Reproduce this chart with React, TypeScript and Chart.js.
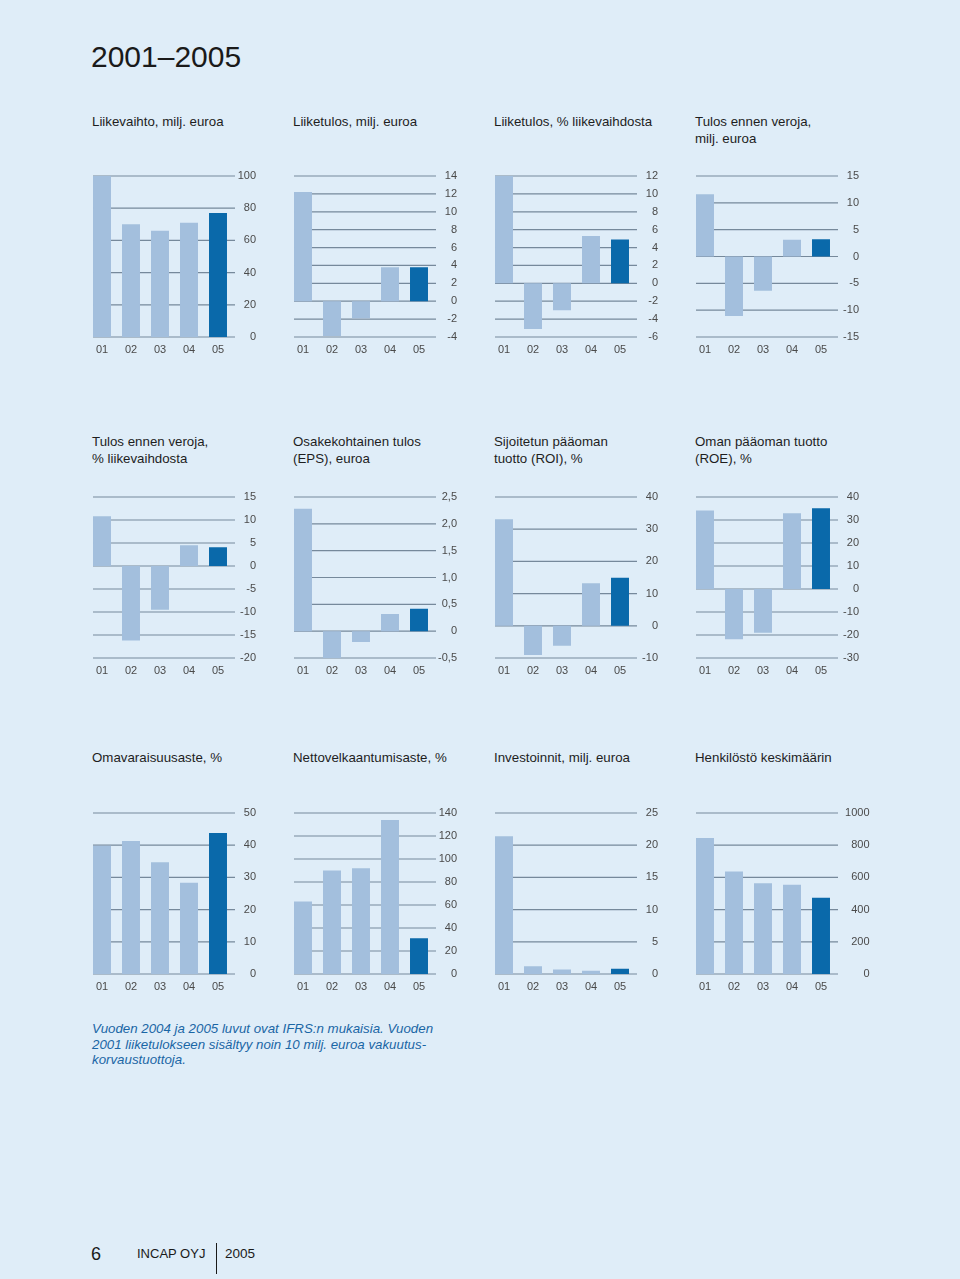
import React, { useEffect, useRef } from "react";
import { Chart, registerables } from "chart.js";

Chart.register(...registerables);

const years = ["01", "02", "03", "04", "05"];

const liikevaihto = [101, 70, 66, 71, 77];
const liiketulos = [12.2, -3.9, -1.9, 3.8, 3.8];
const liiketulosPct = [12.0, -5.1, -3.0, 5.3, 4.9];
const tulosEnnenVeroja = [11.6, -11.1, -6.4, 3.1, 3.2];
const tulosEnnenVerojaPct = [10.8, -16.2, -9.5, 4.5, 4.1];
const eps = [2.28, -0.5, -0.2, 0.32, 0.42];
const roi = [33.1, -9.1, -6.2, 13.2, 14.9];
const roe = [34.1, -21.8, -19.0, 32.9, 35.1];
const omavaraisuusaste = [39.8, 41.3, 34.7, 28.3, 43.8];
const nettovelkaantumisaste = [63, 90, 92, 134, 31];
const investoinnit = [21.4, 1.2, 0.7, 0.5, 0.8];
const henkilosto = [845, 636, 564, 555, 474];

const ticksLiikevaihto = [0, 20, 40, 60, 80, 100];
const ticksLiiketulos = [-4, -2, 0, 2, 4, 6, 8, 10, 12, 14];
const ticksLiiketulosPct = [-6, -4, -2, 0, 2, 4, 6, 8, 10, 12];
const ticksTulos = [-15, -10, -5, 0, 5, 10, 15];
const ticksTulosPct = [-20, -15, -10, -5, 0, 5, 10, 15];
const ticksEps = [-0.5, 0, 0.5, 1.0, 1.5, 2.0, 2.5];
const ticksRoi = [-10, 0, 10, 20, 30, 40];
const ticksRoe = [-30, -20, -10, 0, 10, 20, 30, 40];
const ticksOmavaraisuus = [0, 10, 20, 30, 40, 50];
const ticksNettovelka = [0, 20, 40, 60, 80, 100, 120, 140];
const ticksInvestoinnit = [0, 5, 10, 15, 20, 25];
const ticksHenkilosto = [0, 200, 400, 600, 800, 1000];

const FONT = "'Liberation Sans', Arial, Helvetica, sans-serif";
const BG = "#dfedf8";
const LIGHT = "#a3bfdd";
const DARK = "#0a69aa";
const GRID = "#76899b";
const TEXT = "#4a4a4a";

type MiniProps = {
  values: number[];
  ticks: number[];
  comma?: boolean;
  labelX?: number;
  left: number;
  top: number;
  height: number;
};

function fmt(v: number, comma?: boolean) {
  if (!comma || v === 0) return String(v);
  return v.toFixed(1).replace(".", ",");
}

function MiniBar({ values, ticks, comma, labelX = 23.5, left, top, height }: MiniProps) {
  const ref = useRef<HTMLCanvasElement | null>(null);
  const W = 195;
  const PADL = 4.5;
  const PADT = 8;
  const XH = 24;
  const YW = W - PADL - 145;
  const H = height + PADT + XH;

  useEffect(() => {
    if (!ref.current) return;
    const plugin = {
      id: "miniGrid",
      beforeDatasetsDraw(chart: any) {
        const { ctx, chartArea } = chart;
        const y = chart.scales.y;
        const bar0 = chart.getDatasetMeta(0).data[0] as any;
        const x0 = bar0.x - bar0.width / 2;
        const x1 = chartArea.right + 2.5;
        ctx.save();
        ctx.strokeStyle = GRID;
        ctx.lineWidth = 1.2;
        y.ticks.forEach((t: any) => {
          const py = y.getPixelForValue(t.value);
          ctx.beginPath();
          ctx.moveTo(x0, py);
          ctx.lineTo(x1, py);
          ctx.stroke();
        });
        ctx.restore();
      },
      afterDraw(chart: any) {
        const { ctx, chartArea } = chart;
        const y = chart.scales.y;
        ctx.save();
        ctx.font = "11px " + FONT;
        ctx.fillStyle = TEXT;
        ctx.textAlign = "right";
        ctx.textBaseline = "middle";
        y.ticks.forEach((t: any) => {
          const py = y.getPixelForValue(t.value);
          ctx.fillText(fmt(t.value, comma), chartArea.right + labelX, py);
        });
        ctx.restore();
      },
    };
    const chart = new Chart(ref.current, {
      type: "bar",
      data: {
        labels: years,
        datasets: [
          {
            data: values,
            backgroundColor: values.map((_, i) => (i === values.length - 1 ? DARK : LIGHT)),
            borderWidth: 0,
            barPercentage: 0.62,
            categoryPercentage: 1,
          },
        ],
      },
      options: {
        responsive: false,
        animation: false,
        layout: { padding: { left: PADL, top: PADT, right: 0, bottom: 0 } },
        plugins: { legend: { display: false }, tooltip: { enabled: false } },
        scales: {
          x: {
            grid: { display: false, drawTicks: false },
            border: { display: false },
            ticks: { padding: 6, color: TEXT, font: { size: 11, family: FONT } },
            afterFit: (s: any) => {
              s.height = XH;
            },
          },
          y: {
            position: "right",
            min: ticks[0],
            max: ticks[ticks.length - 1],
            grid: { display: false, drawTicks: false },
            border: { display: false },
            ticks: { display: false },
            afterFit: (s: any) => {
              s.width = YW;
            },
            afterBuildTicks: (s: any) => {
              s.ticks = ticks.map((v) => ({ value: v }));
            },
          },
        },
      } as any,
      plugins: [plugin],
    });
    return () => chart.destroy();
  }, []);

  return (
    <canvas
      ref={ref}
      width={W}
      height={H}
      style={{ position: "absolute", left, top: top - PADT, width: W, height: H }}
    />
  );
}

const colX = (c: number) => 92 + 201 * c;
const canvasX = (c: number) => 83 + 201 * c;

const titleStyle = (c: number, top: number): React.CSSProperties => ({
  position: "absolute",
  left: colX(c),
  top,
  font: "13.3px " + FONT,
  lineHeight: "17px",
  color: "#1e1e1e",
  margin: 0,
  whiteSpace: "nowrap",
});

export default function App() {
  const rows = [
    { T: 176, B: 337, titleTop: 112.5 },
    { T: 497, B: 658, titleTop: 432.5 },
    { T: 813, B: 974, titleTop: 748.5 },
  ];
  const charts: {
    title: React.ReactNode;
    values: number[];
    ticks: number[];
    comma?: boolean;
    labelX?: number;
  }[][] = [
    [
      { title: "Liikevaihto, milj. euroa", values: liikevaihto, ticks: ticksLiikevaihto },
      { title: "Liiketulos, milj. euroa", values: liiketulos, ticks: ticksLiiketulos },
      { title: "Liiketulos, % liikevaihdosta", values: liiketulosPct, ticks: ticksLiiketulosPct },
      { title: <>Tulos ennen veroja,<br />milj. euroa</>, values: tulosEnnenVeroja, ticks: ticksTulos },
    ],
    [
      { title: <>Tulos ennen veroja,<br />% liikevaihdosta</>, values: tulosEnnenVerojaPct, ticks: ticksTulosPct },
      { title: <>Osakekohtainen tulos<br />(EPS), euroa</>, values: eps, ticks: ticksEps, comma: true },
      { title: <>Sijoitetun pääoman<br />tuotto (ROI), %</>, values: roi, ticks: ticksRoi },
      { title: <>Oman pääoman tuotto<br />(ROE), %</>, values: roe, ticks: ticksRoe },
    ],
    [
      { title: "Omavaraisuusaste, %", values: omavaraisuusaste, ticks: ticksOmavaraisuus },
      { title: "Nettovelkaantumisaste, %", values: nettovelkaantumisaste, ticks: ticksNettovelka },
      { title: "Investoinnit, milj. euroa", values: investoinnit, ticks: ticksInvestoinnit },
      { title: "Henkilöstö keskimäärin", values: henkilosto, ticks: ticksHenkilosto, labelX: 34 },
    ],
  ];

  return (
    <div
      style={{
        position: "absolute",
        left: 0,
        top: 0,
        width: 960,
        height: 1279,
        background: BG,
        overflow: "hidden",
        fontFamily: FONT,
      }}
    >
      <div
        style={{
          position: "absolute",
          left: 91,
          top: 41,
          fontSize: 30,
          lineHeight: "32px",
          color: "#1a1a1a",
        }}
      >
        2001–2005
      </div>

      {rows.map((r, ri) =>
        charts[ri].map((c, ci) => (
          <React.Fragment key={ri + "-" + ci}>
            <div style={titleStyle(ci, r.titleTop)}>{c.title}</div>
            <MiniBar
              values={c.values}
              ticks={c.ticks}
              comma={c.comma}
              labelX={c.labelX}
              left={canvasX(ci)}
              top={r.T}
              height={r.B - r.T}
            />
          </React.Fragment>
        ))
      )}

      <div
        style={{
          position: "absolute",
          left: 92,
          top: 1021,
          font: "italic 13.3px " + FONT,
          lineHeight: "15.5px",
          color: "#1a66a5",
          whiteSpace: "nowrap",
        }}
      >
        Vuoden 2004 ja 2005 luvut ovat IFRS:n mukaisia. Vuoden
        <br />
        2001 liiketulokseen sisältyy noin 10 milj. euroa vakuutus-
        <br />
        korvaustuottoja.
      </div>

      <div
        style={{
          position: "absolute",
          left: 91,
          top: 1244,
          fontSize: 18,
          lineHeight: "20px",
          color: "#1a1a1a",
        }}
      >
        6
      </div>
      <div
        style={{
          position: "absolute",
          left: 137,
          top: 1246,
          fontSize: 13,
          lineHeight: "16px",
          color: "#1a1a1a",
        }}
      >
        INCAP OYJ
      </div>
      <div
        style={{
          position: "absolute",
          left: 216,
          top: 1243,
          width: 1,
          height: 31,
          background: "#1a1a1a",
        }}
      />
      <div
        style={{
          position: "absolute",
          left: 225,
          top: 1246,
          fontSize: 13.5,
          lineHeight: "16px",
          color: "#1a1a1a",
        }}
      >
        2005
      </div>
    </div>
  );
}
